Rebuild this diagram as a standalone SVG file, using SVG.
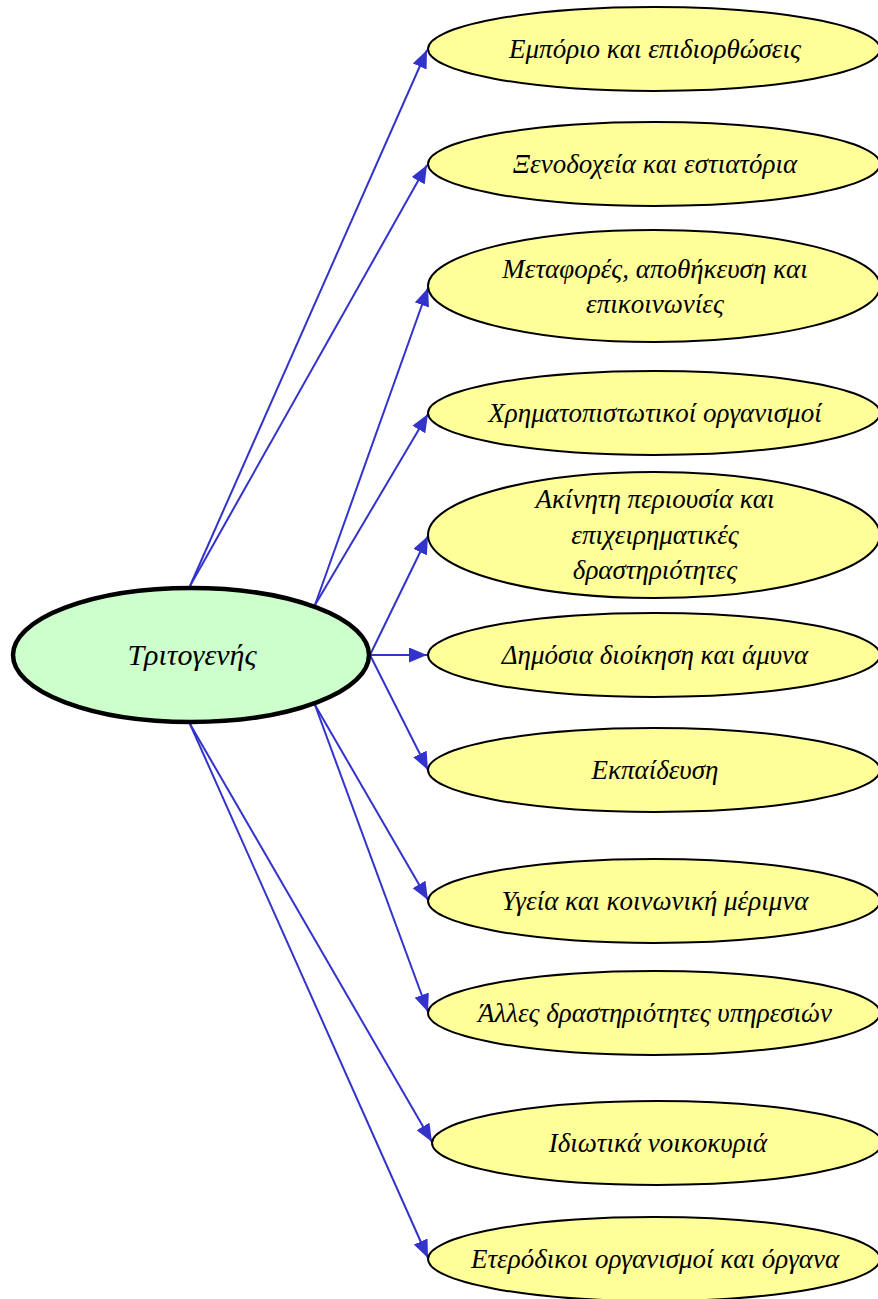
<svg xmlns="http://www.w3.org/2000/svg" width="878" height="1299" viewBox="0 0 878 1299">
<style>
.leaf ellipse{fill:#ffff99;stroke:#000;stroke-width:2}
.leaf text,.root text{font-family:"Liberation Serif","DejaVu Serif",serif;font-style:italic;fill:#000;text-anchor:middle}
.leaf text{font-size:27px}
.root text{font-size:30px}
.root ellipse{fill:#ccffcc;stroke:#000;stroke-width:4.5}
#connectors line{stroke:#3333cc;stroke-width:2;fill:none;marker-end:url(#arr)}
</style>
<defs>
<marker id="arr" markerUnits="userSpaceOnUse" markerWidth="19" markerHeight="15" refX="18" refY="7.5" orient="auto" viewBox="0 0 19 15">
<path d="M0,0 L18,7.5 L0,15 z" fill="#3333cc"/>
</marker>
</defs>
<g id="connectors">
<line x1="190" y1="586" x2="427" y2="50"/>
<line x1="190" y1="586" x2="427" y2="165"/>
<line x1="315" y1="605" x2="428" y2="288"/>
<line x1="315" y1="605" x2="428" y2="414"/>
<line x1="370" y1="655" x2="428" y2="536"/>
<line x1="370" y1="655" x2="427" y2="655"/>
<line x1="370" y1="655" x2="428" y2="770"/>
<line x1="315" y1="705" x2="428" y2="900"/>
<line x1="315" y1="705" x2="428" y2="1012"/>
<line x1="190" y1="724" x2="432" y2="1142"/>
<line x1="190" y1="724" x2="428" y2="1258"/>
</g>
<g id="root" class="root">
<ellipse cx="191" cy="655" rx="178" ry="67"/>
<text x="192" y="665">Τριτογενής</text>
</g>
<g id="n1" class="leaf"><ellipse cx="654" cy="49" rx="226" ry="42"/><text x="655" y="58">Εμπόριο και επιδιορθώσεις</text></g>
<g id="n2" class="leaf"><ellipse cx="654" cy="164" rx="226" ry="42"/><text x="655" y="173">Ξενοδοχεία και εστιατόρια</text></g>
<g id="n3" class="leaf"><ellipse cx="654" cy="286" rx="226" ry="56"/><text x="655" y="278">Μεταφορές, αποθήκευση και</text><text x="655" y="313">επικοινωνίες</text></g>
<g id="n4" class="leaf"><ellipse cx="654" cy="413" rx="226" ry="42"/><text x="655" y="422">Χρηματοπιστωτικοί οργανισμοί</text></g>
<g id="n5" class="leaf"><ellipse cx="654" cy="535" rx="226" ry="63"/><text x="655" y="508">Ακίνητη περιουσία και</text><text x="655" y="544">επιχειρηματικές</text><text x="655" y="579">δραστηριότητες</text></g>
<g id="n6" class="leaf"><ellipse cx="654" cy="655" rx="226" ry="42"/><text x="655" y="664">Δημόσια διοίκηση και άμυνα</text></g>
<g id="n7" class="leaf"><ellipse cx="654" cy="770" rx="226" ry="42"/><text x="655" y="779">Εκπαίδευση</text></g>
<g id="n8" class="leaf"><ellipse cx="654" cy="901" rx="226" ry="42"/><text x="655" y="910">Υγεία και κοινωνική μέριμνα</text></g>
<g id="n9" class="leaf"><ellipse cx="654" cy="1013" rx="226" ry="42"/><text x="655" y="1022">Άλλες δραστηριότητες υπηρεσιών</text></g>
<g id="n10" class="leaf"><ellipse cx="657" cy="1143" rx="225" ry="42"/><text x="658" y="1152">Ιδιωτικά νοικοκυριά</text></g>
<g id="n11" class="leaf"><ellipse cx="654" cy="1259" rx="226" ry="42"/><text x="655" y="1268">Ετερόδικοι οργανισμοί και όργανα</text></g>
</svg>
